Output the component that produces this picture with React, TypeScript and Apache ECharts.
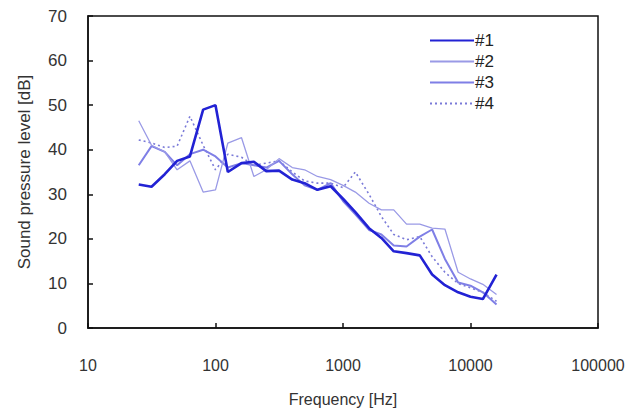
import React, { useEffect, useRef } from "react";
import * as echarts from "echarts";

const freqs = [25, 31.5, 40, 50, 63, 80, 100, 125, 160, 200, 250, 315, 400, 500, 630, 800, 1000, 1250, 1600, 2000, 2500, 3150, 4000, 5000, 6300, 8000, 10000, 12500, 16000];

const s1 = [32.2, 31.7, 34.5, 37.5, 38.5, 49, 50, 35, 37, 37.3, 35.2, 35.3, 33.3, 32.5, 31, 31.8, 29, 26, 22.4, 20.2, 17.2, 16.8, 16.3, 12, 9.6, 8, 7, 6.5, 12];
const s2 = [46.5, 41, 39.5, 35.5, 37.5, 30.5, 31, 41.5, 42.7, 34, 35.5, 38, 36, 35.5, 34, 33.3, 32, 30.5, 28, 26.5, 26.5, 23.3, 23.3, 22.4, 22.2, 12.5, 11, 9.8, 7.5];
const s3 = [36.5, 40.8, 39.5, 36.5, 39, 40, 38.5, 36, 37, 36.5, 36, 37.5, 34.5, 32, 31, 32.5, 28.5, 25.5, 22, 21, 18.5, 18.3, 20.5, 22.1, 15.5, 10.2, 9.5, 8, 5.3];
const s4 = [42.2, 41.5, 40.5, 40.8, 47.5, 41, 35.5, 39, 38.3, 36.5, 37, 37.5, 35, 33, 32.5, 32.5, 31.5, 35, 30, 25, 21, 19.8, 20.5, 16, 12.5, 10, 9, 8, 6];

const seriesNames = ["#1", "#2", "#3", "#4"];
const seriesValues = [s1, s2, s3, s4];

export default function App() {
  const ref = useRef<HTMLDivElement>(null);
  useEffect(() => {
    if (!ref.current) return;
    const chart = echarts.init(ref.current, null, { renderer: "svg" });
    const styles = [
      { color: "#2222d4", width: 2.6, type: "solid" },
      { color: "#9a9ae6", width: 1.3, type: "solid" },
      { color: "#7f7fe6", width: 2, type: "solid" },
      { color: "#7a7ad8", width: 1.6, type: [2, 3] },
    ];
    const font = "'Liberation Sans', Arial, sans-serif";
    chart.setOption({
      animation: false,
      textStyle: { fontFamily: font },
      grid: { left: 88, right: 39, top: 16, bottom: 79, show: true, borderColor: "#111", borderWidth: 1.5, containLabel: false },
      legend: {
        orient: "vertical",
        left: 424,
        top: 27,
        itemWidth: 44,
        itemHeight: 14,
        itemGap: 4,
        itemStyle: { opacity: 0 },
        textStyle: { fontSize: 17, color: "#222", fontFamily: font, padding: [0, 0, 0, -4] },
        data: seriesNames,
      },
      xAxis: {
        type: "log",
        logBase: 10,
        min: 10,
        max: 100000,
        name: "Frequency [Hz]",
        nameLocation: "middle",
        nameGap: 63,
        nameTextStyle: { fontSize: 16, color: "#333" },
        axisLine: { lineStyle: { color: "#111", width: 1.5 } },
        axisTick: { inside: true, length: 5, lineStyle: { color: "#111", width: 1.5 } },
        minorTick: { show: false },
        splitLine: { show: false },
        axisLabel: { fontSize: 16, color: "#333", margin: 29, formatter: (v: number) => String(Math.round(v)) },
      },
      yAxis: {
        type: "value",
        min: 0,
        max: 70,
        interval: 10,
        name: "Sound pressure level [dB]",
        nameLocation: "middle",
        nameGap: 55,
        nameRotate: 90,
        nameTextStyle: { fontSize: 17, color: "#333" },
        axisLine: { show: true, lineStyle: { color: "#111", width: 1.5 } },
        axisTick: { show: true, inside: true, length: 5, lineStyle: { color: "#111", width: 1.5 } },
        splitLine: { show: false },
        axisLabel: { fontSize: 17, color: "#333", margin: 21 },
      },
      series: seriesNames.map((name, i) => ({
        name,
        type: "line",
        symbol: "none",
        data: freqs.map((f, j) => [f, seriesValues[i][j]]),
        lineStyle: styles[i],
        itemStyle: { color: styles[i].color },
        z: 10 - i,
      })),
    });
    return () => chart.dispose();
  }, []);
  return <div ref={ref} style={{ width: 637, height: 412, position: "absolute", left: 0, top: 0 }} />;
}
